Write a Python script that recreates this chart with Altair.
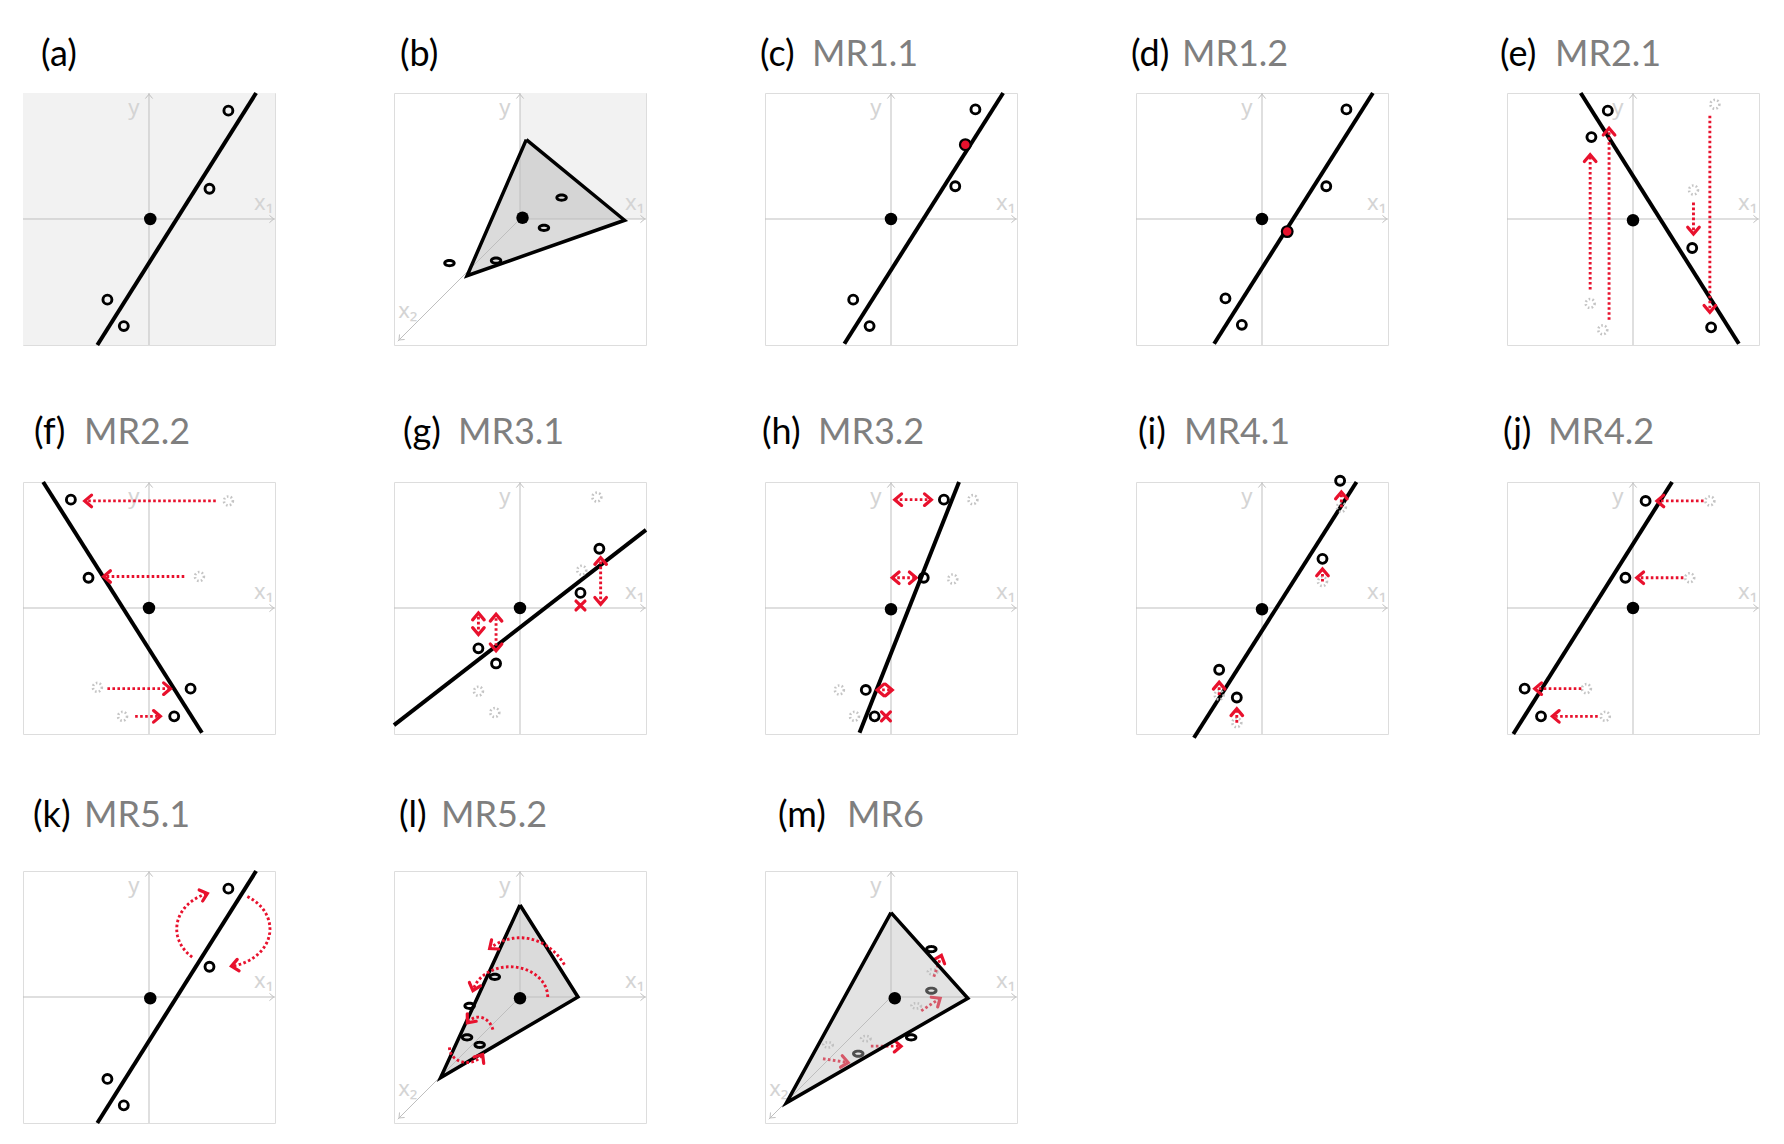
import math
import numpy as np
import pandas as pd
import altair as alt

# ---------------- text ----------------
PANEL_LABELS = ["(a)", "(b)", "(c)", "(d)", "(e)", "(f)", "(g)", "(h)", "(i)", "(j)", "(k)", "(l)", "(m)"]
PANEL_NAMES = ["", "", "MR1.1", "MR1.2", "MR2.1", "MR2.2", "MR3.1", "MR3.2", "MR4.1", "MR4.2", "MR5.1", "MR5.2", "MR6"]

# ---------------- values (local coordinates, both axes run -1..1) ----------------
# (a) original regression line
CENTER_A = [(0.01, 0.0)]
LINE_A = [(-0.41, -1.0, 0.85, 1.0)]
POINTS_A = [(0.63, 0.86), (0.48, 0.24), (-0.33, -0.64), (-0.20, -0.85)]
SHADE_A = [(-1.0, -1.0, 1.0, 1.0)]

# (b) plane in 3-D
CENTER_B = [(0.02, 0.01)]
TRIANGLE_B = [(0.05, 0.63), (0.83, -0.01), (-0.42, -0.45)]
POINTS_B = [(0.33, 0.17), (0.19, -0.07), (-0.19, -0.33), (-0.56, -0.35)]
SHADE_B = [(0.0, 0.0, 1.0, 1.0)]

# (c) MR1.1
CENTER_C = [(0.0, 0.0)]
LINE_C = [(-0.37, -0.99, 0.89, 1.0)]
POINTS_C = [(0.67, 0.87), (0.51, 0.26), (-0.30, -0.64), (-0.17, -0.85)]
RED_C = [(0.59, 0.59)]

# (d) MR1.2
CENTER_D = [(0.0, 0.0)]
LINE_D = [(-0.38, -0.99, 0.88, 1.0)]
POINTS_D = [(0.67, 0.87), (0.51, 0.26), (-0.29, -0.63), (-0.16, -0.84)]
RED_D = [(0.20, -0.10)]

# (e) MR2.1
CENTER_E = [(0.0, -0.01)]
LINE_E = [(-0.415, 1.0, 0.84, -0.99)]
POINTS_E = [(-0.20, 0.86), (-0.33, 0.65), (0.47, -0.23), (0.62, -0.86)]
GHOSTS_E = [(-0.34, -0.67), (-0.24, -0.88), (0.48, 0.23), (0.65, 0.91)]
ARROWS_E = [(-0.34, -0.56, -0.34, 0.51), (-0.19, -0.80, -0.19, 0.72),
            (0.48, 0.13, 0.48, -0.12), (0.61, 0.82, 0.61, -0.74)]

# (f) MR2.2
CENTER_F = [(0.0, 0.0)]
LINE_F = [(-0.84, 1.0, 0.42, -0.99)]
POINTS_F = [(-0.62, 0.86), (-0.48, 0.24), (0.33, -0.64), (0.20, -0.86)]
GHOSTS_F = [(0.63, 0.85), (0.40, 0.25), (-0.41, -0.63), (-0.21, -0.86)]
ARROWS_F = [(0.53, 0.85, -0.51, 0.85), (0.28, 0.25, -0.36, 0.25),
            (-0.33, -0.64, 0.17, -0.64), (-0.11, -0.86, 0.09, -0.86)]

# (g) MR3.1
CENTER_G = [(0.0, 0.0)]
LINE_G = [(-1.0, -0.93, 1.0, 0.62)]
POINTS_G = [(0.63, 0.47), (0.48, 0.12), (-0.33, -0.32), (-0.19, -0.44)]
GHOSTS_G = [(0.61, 0.88), (0.49, 0.30), (-0.33, -0.66), (-0.20, -0.83)]
DARROWS_G = [(0.64, 0.03, 0.64, 0.40), (-0.33, -0.21, -0.33, -0.04), (-0.19, -0.34, -0.19, -0.05)]
XMARKS_G = [(0.48, 0.02)]

# (h) MR3.2
CENTER_H = [(0.0, -0.01)]
LINE_H = [(-0.25, -0.99, 0.54, 1.0)]
POINTS_H = [(0.42, 0.86), (0.26, 0.24), (-0.20, -0.65), (-0.13, -0.86)]
GHOSTS_H = [(0.65, 0.86), (0.49, 0.23), (-0.41, -0.65), (-0.29, -0.86)]
DARROWS_H = [(0.03, 0.86, 0.32, 0.86), (0.01, 0.24, 0.20, 0.24), (-0.11, -0.65, 0.01, -0.65)]
XMARKS_H = [(-0.04, -0.86)]

# (i) MR4.1
CENTER_I = [(0.0, -0.01)]
LINE_I = [(-0.54, -1.03, 0.75, 1.0)]
POINTS_I = [(0.62, 1.01), (0.48, 0.39), (-0.34, -0.49), (-0.20, -0.71)]
GHOSTS_I = [(0.63, 0.80), (0.48, 0.21), (-0.34, -0.69), (-0.20, -0.91)]
ARROWS_I = [(0.63, 0.80, 0.63, 0.92), (0.48, 0.21, 0.48, 0.31),
            (-0.34, -0.69, -0.34, -0.59), (-0.20, -0.91, -0.20, -0.80)]

# (j) MR4.2
CENTER_J = [(0.0, 0.0)]
LINE_J = [(-0.95, -1.0, 0.31, 1.0)]
POINTS_J = [(0.10, 0.85), (-0.06, 0.24), (-0.86, -0.64), (-0.73, -0.86)]
GHOSTS_J = [(0.61, 0.85), (0.45, 0.24), (-0.37, -0.64), (-0.22, -0.86)]
ARROWS_J = [(0.56, 0.85, 0.19, 0.85), (0.40, 0.24, 0.03, 0.24),
            (-0.41, -0.64, -0.78, -0.64), (-0.28, -0.86, -0.64, -0.86)]

# (k) MR5.1  arcs: centre x, centre y, radius x, radius y, start deg, end deg
CENTER_K = [(0.01, -0.01)]
LINE_K = [(-0.41, -1.0, 0.85, 1.0)]
POINTS_K = [(0.63, 0.86), (0.48, 0.24), (-0.33, -0.65), (-0.20, -0.86)]
ARCS_K = [(0.59, 0.54, 0.37, 0.30, 228, 110), (0.59, 0.54, 0.37, 0.30, 59, -80)]

# (l) MR5.2
CENTER_L = [(0.0, -0.01)]
TRIANGLE_L = [(0.0, 0.73), (0.46, 0.0), (-0.63, -0.64)]
POINTS_L = [(-0.20, 0.16), (-0.40, -0.07), (-0.42, -0.32), (-0.32, -0.38)]
ARCS_L = [(0.0, 0.0, 0.42, 0.47, 33, 125), (-0.08, 0.0, 0.30, 0.24, 0, 168),
          (-0.33, -0.30, 0.12, 0.14, 17, 137), (-0.42, -0.40, 0.14, 0.12, 180, 332)]

# (m) MR6
CENTER_M = [(0.03, -0.01)]
TRIANGLE_M = [(0.0, 0.67), (0.61, -0.01), (-0.83, -0.84)]
POINTS_M = [(0.32, 0.38), (0.32, 0.05), (0.16, -0.32), (-0.26, -0.45)]
GHOSTS_M = [(0.33, 0.20), (0.20, -0.07), (-0.20, -0.33), (-0.50, -0.38)]
ARROWS_M = [(0.34, 0.16, 0.40, 0.33), (0.24, -0.11, 0.39, -0.01),
            (-0.16, -0.39, 0.08, -0.39), (-0.54, -0.49, -0.34, -0.52)]

# ---------------- styles ----------------
RED = "#e8112d"
GRID = "#bfbfbf"
AXIS_TEXT = "#d4d4d4"
GHOST = "#c4c4c4"
CHEVRON = "M -1 -0.85 L 0 0 L -1 0.85"
XMARK = "M -1 -1 L 1 1 M -1 1 L 1 -1"
_t = np.linspace(0, 2 * np.pi, 29)[:-1]
ELLIPSE = "M " + " L ".join(f"{math.cos(a):.3f} {0.55 * math.sin(a):.3f}" for a in _t) + " Z"

PANEL_W = 252
COL_SPACING = 119
ROW_SPACING = 137
TITLE_SIZE = 36

# title placement relative to each plot box: label dx, name dx, dy
TITLE_POS = {
    "a": (18, 0, -38), "b": (6, 0, -38), "c": (-5, 47, -38), "d": (-5, 46, -38), "e": (-7, 48, -38),
    "f": (11, 61, -49), "g": (9, 64, -49), "h": (-3, 53, -49), "i": (2, 48, -49), "j": (-4, 41, -49),
    "k": (10, 61, -55), "l": (5, 47, -55), "m": (13, 82, -55),
}

AXES_2D = [(-1, 0, 1, 0), (0, -1, 0, 1)]
AXES_2D_HEADS = [(0.99, 0, 0), (0, 0.99, 270)]
AXES_2D_TEXT = [(-0.12, 0.88, "y"), (0.91, 0.13, "x\u2081")]
AXES_3D = [(0, 0, 1, 0), (0, 0, 0, 1), (0, 0, -0.97, -0.97)]
AXES_3D_HEADS = [(0.99, 0, 0), (0, 0.99, 270), (-0.96, -0.96, 135)]
AXES_3D_TEXT = [(-0.12, 0.88, "y"), (0.91, 0.13, "x\u2081"), (-0.89, -0.73, "x\u2082")]


def XE(f="x"):
    return alt.X(f"{f}:Q", scale=alt.Scale(domain=[-1, 1]), axis=None)


def YE(f="y"):
    return alt.Y(f"{f}:Q", scale=alt.Scale(domain=[-1, 1]), axis=None)


def heading(x0, y0, x1, y1):
    return math.degrees(math.atan2(-(y1 - y0), x1 - x0)) % 360


def seg_layer(rows, **mark):
    df = pd.DataFrame(rows, columns=["x", "y", "x2", "y2"])
    return alt.Chart(df).mark_rule(**mark).encode(x=XE(), y=YE(), x2="x2:Q", y2="y2:Q")


def head_layer(rows, path, size, color, sw):
    df = pd.DataFrame(rows, columns=["x", "y", "a"])
    return alt.Chart(df).mark_point(
        shape=path, filled=False, size=size, color=color, strokeWidth=sw, opacity=1,
        strokeCap="round", strokeJoin="miter"
    ).encode(x=XE(), y=YE(), angle=alt.Angle("a:Q", scale=None))


def point_layer(rows, shape, size, **mark):
    df = pd.DataFrame(rows, columns=["x", "y"])
    return alt.Chart(df).mark_point(shape=shape, size=size, opacity=1, **mark).encode(x=XE(), y=YE())


def text_layer(rows, **mark):
    df = pd.DataFrame(rows, columns=["x", "y", "t"])
    return alt.Chart(df).mark_text(**mark).encode(x=XE(), y=YE(), text="t:N")


def triangle_layer(tri, **mark):
    rows = list(tri) + [tri[0]]
    df = pd.DataFrame(rows, columns=["x", "y"])
    df["o"] = range(len(df))
    return alt.Chart(df).mark_line(**mark).encode(x=XE(), y=YE(), order="o:Q")


def arc_table(arcs):
    frames, heads = [], []
    for i, (cx, cy, rx, ry, a0, a1) in enumerate(arcs):
        t = np.radians(np.linspace(a0, a1, 48))
        xs = cx + rx * np.cos(t)
        ys = cy + ry * np.sin(t)
        frames.append(pd.DataFrame({"x": xs, "y": ys, "id": i, "o": range(len(t))}))
        heads.append((xs[-1], ys[-1], heading(xs[-2], ys[-2], xs[-1], ys[-1])))
    return pd.concat(frames, ignore_index=True), heads


def panel(key, label, name, center, line=None, points=None, ellipses=False, ghosts=None,
          arrows=None, darrows=None, xmarks=None, arcs=None, reds=None, triangle=None,
          tri_on_top=False, shade=None, three_d=False):
    layers = []
    if shade:
        df = pd.DataFrame(shade, columns=["x", "y", "x2", "y2"])
        layers.append(alt.Chart(df).mark_rect(color="#f2f2f2").encode(
            x=XE(), y=YE(), x2="x2:Q", y2="y2:Q"))
    axes, heads, texts = (AXES_3D, AXES_3D_HEADS, AXES_3D_TEXT) if three_d else (AXES_2D, AXES_2D_HEADS, AXES_2D_TEXT)
    layers.append(seg_layer(axes, color=GRID, strokeWidth=1))
    layers.append(head_layer(heads, CHEVRON, 64, GRID, 1))
    layers.append(text_layer(texts, font="Noto Sans", fontSize=22, color=AXIS_TEXT,
                             align="center", baseline="middle"))
    tri_fill = dict(fill="#bdbdbd", fillOpacity=0.42 if tri_on_top else 0.55, stroke=None, strokeWidth=0)
    tri_stroke = dict(stroke="black", strokeWidth=3.5, strokeJoin="miter", fill=None)
    if triangle and not tri_on_top:
        layers.append(triangle_layer(triangle, **tri_fill))
        layers.append(triangle_layer(triangle, **tri_stroke))
    if line:
        layers.append(seg_layer(line, color="black", strokeWidth=4, strokeCap="butt"))
    if ghosts:
        layers.append(point_layer(ghosts, ELLIPSE if ellipses else "circle", 90 if ellipses else 80,
                                  filled=False, color=GHOST, strokeWidth=2.6, strokeDash=[1.6, 2.2]))
    dash = dict(color=RED, strokeWidth=2.9, strokeDash=[2.6, 2.4])
    head_size, head_w = 185, 3.2
    if arrows:
        layers.append(seg_layer(arrows, **dash))
        layers.append(head_layer([(x1, y1, heading(x0, y0, x1, y1)) for x0, y0, x1, y1 in arrows],
                                 CHEVRON, head_size, RED, head_w))
    if darrows:
        layers.append(seg_layer(darrows, **dash))
        hd = []
        for x0, y0, x1, y1 in darrows:
            hd.append((x1, y1, heading(x0, y0, x1, y1)))
            hd.append((x0, y0, heading(x1, y1, x0, y0)))
        layers.append(head_layer(hd, CHEVRON, head_size, RED, head_w))
    if xmarks:
        layers.append(head_layer([(x, y, 0) for x, y in xmarks], XMARK, 80, RED, 3.2))
    if arcs:
        arc_df, arc_heads = arc_table(arcs)
        layers.append(alt.Chart(arc_df).mark_line(**dash).encode(
            x=XE(), y=YE(), detail="id:N", order="o:Q"))
        layers.append(head_layer(arc_heads, CHEVRON, head_size, RED, head_w))
    if points:
        layers.append(point_layer(points, ELLIPSE if ellipses else "circle", 90 if ellipses else 80,
                                  filled=False, color="black", strokeWidth=2.9))
    if reds:
        layers.append(point_layer(reds, "circle", 115, filled=True, fill=RED, stroke="black",
                                  strokeWidth=2.2))
    if triangle and tri_on_top:
        layers.append(triangle_layer(triangle, **tri_fill))
        layers.append(triangle_layer(triangle, **tri_stroke))
    layers.append(alt.Chart(pd.DataFrame(center, columns=["x", "y"])).mark_circle(
        size=155, color="black", opacity=1).encode(x=XE(), y=YE()))
    ldx, ndx, dy = TITLE_POS[key]
    layers.append(alt.Chart(pd.DataFrame({"t": [label]})).mark_text(
        align="left", baseline="middle", font="Lato", fontSize=TITLE_SIZE, color="black"
    ).encode(x=alt.value(ldx), y=alt.value(dy), text="t:N"))
    if name:
        layers.append(alt.Chart(pd.DataFrame({"t": [name]})).mark_text(
            align="left", baseline="middle", font="Lato", fontSize=TITLE_SIZE, color="#7f7f7f"
        ).encode(x=alt.value(ndx), y=alt.value(dy), text="t:N"))
    return alt.layer(*layers).properties(width=PANEL_W, height=PANEL_W)


L, N = PANEL_LABELS, PANEL_NAMES
pa = panel("a", L[0], N[0], CENTER_A, line=LINE_A, points=POINTS_A, shade=SHADE_A)
pb = panel("b", L[1], N[1], CENTER_B, points=POINTS_B, ellipses=True, triangle=TRIANGLE_B,
           shade=SHADE_B, three_d=True)
pc = panel("c", L[2], N[2], CENTER_C, line=LINE_C, points=POINTS_C, reds=RED_C)
pd_ = panel("d", L[3], N[3], CENTER_D, line=LINE_D, points=POINTS_D, reds=RED_D)
pe = panel("e", L[4], N[4], CENTER_E, line=LINE_E, points=POINTS_E, ghosts=GHOSTS_E, arrows=ARROWS_E)
pf = panel("f", L[5], N[5], CENTER_F, line=LINE_F, points=POINTS_F, ghosts=GHOSTS_F, arrows=ARROWS_F)
pg = panel("g", L[6], N[6], CENTER_G, line=LINE_G, points=POINTS_G, ghosts=GHOSTS_G,
           darrows=DARROWS_G, xmarks=XMARKS_G)
ph = panel("h", L[7], N[7], CENTER_H, line=LINE_H, points=POINTS_H, ghosts=GHOSTS_H,
           darrows=DARROWS_H, xmarks=XMARKS_H)
pi = panel("i", L[8], N[8], CENTER_I, line=LINE_I, points=POINTS_I, ghosts=GHOSTS_I, arrows=ARROWS_I)
pj = panel("j", L[9], N[9], CENTER_J, line=LINE_J, points=POINTS_J, ghosts=GHOSTS_J, arrows=ARROWS_J)
pk = panel("k", L[10], N[10], CENTER_K, line=LINE_K, points=POINTS_K, arcs=ARCS_K)
pl = panel("l", L[11], N[11], CENTER_L, points=POINTS_L, ellipses=True, triangle=TRIANGLE_L,
           arcs=ARCS_L, three_d=True)
pm = panel("m", L[12], N[12], CENTER_M, points=POINTS_M, ellipses=True, ghosts=GHOSTS_M,
           arrows=ARROWS_M, triangle=TRIANGLE_M, tri_on_top=True, three_d=True)

chart = alt.concat(
    pa, pb, pc, pd_, pe, pf, pg, ph, pi, pj, pk, pl, pm,
    columns=5, spacing={"row": ROW_SPACING, "column": COL_SPACING}, bounds="flush"
).properties(
    padding={"left": 14, "top": 28, "right": 5, "bottom": 5}
).configure_view(stroke=GRID, strokeWidth=1).configure(background="white")

chart.save("out.html", embed_options={"renderer": "svg", "actions": False})
